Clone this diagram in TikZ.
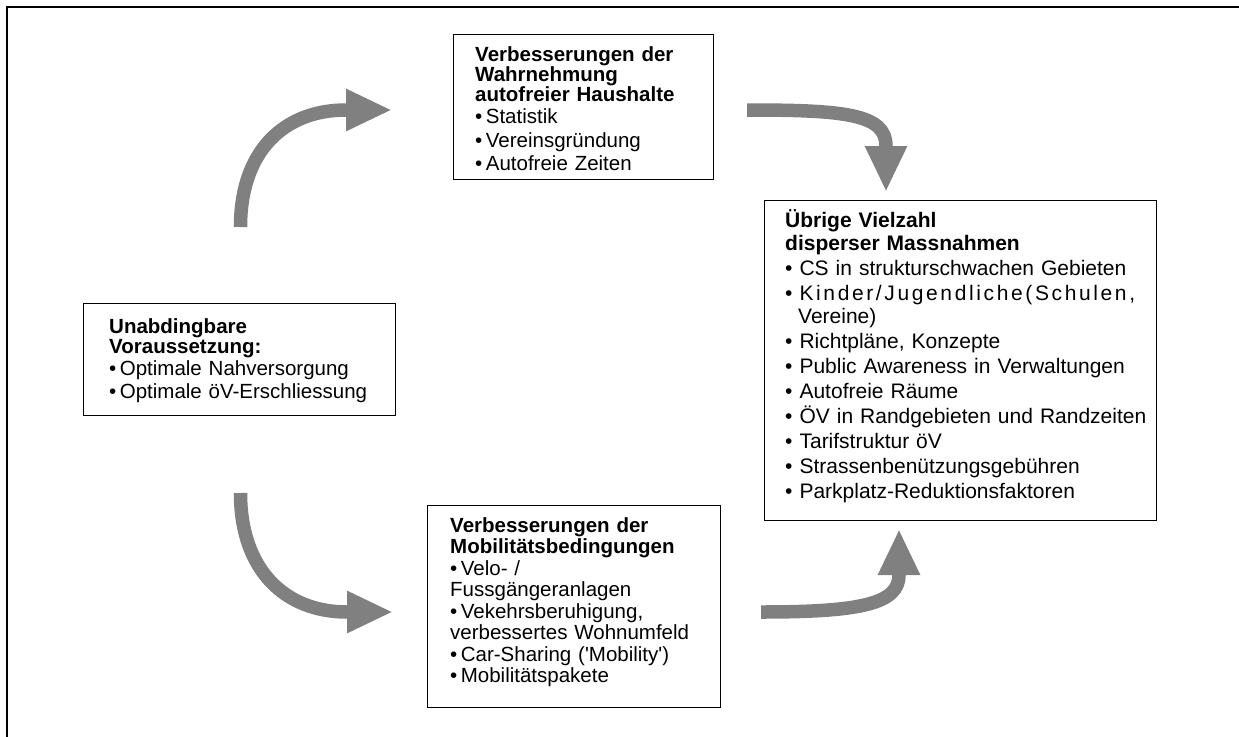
\documentclass[tikz,border=0pt]{standalone}
\usepackage{fontspec}
\setmainfont{Liberation Sans}
\usetikzlibrary{arrows.meta}
\definecolor{arrowgray}{RGB}{128,128,128}
\tikzset{
  boxframe/.style={draw=black, line width=1.4pt, inner sep=0pt, anchor=north west},
  boxtext/.style={anchor=base west, inner sep=0pt, align=left},
  bigarrow/.style={draw=arrowgray, line width=13.5pt, -{Triangle[length=46pt,width=39pt]}},
  outerframe/.style={draw=black, line width=2.5pt}
}
\begin{document}
\begin{tikzpicture}[x=1pt,y=-1pt]
\useasboundingbox (0,0) rectangle (1239,736);
% outer frame (top and left)
\coordinate (fBL) at (7,737);
\coordinate (fTL) at (7,7);
\coordinate (fTR) at (1240,7);
\draw[outerframe] (fBL) -- (fTL) -- (fTR);

% boxes
\node[boxframe, minimum width=260pt, minimum height=145pt] (topbox) at (453,34) {};
\node[boxframe, minimum width=392pt, minimum height=320pt] (rightbox) at (764,200) {};
\node[boxframe, minimum width=312pt, minimum height=112pt] (leftbox) at (83,303) {};
\node[boxframe, minimum width=293pt, minimum height=202pt] (botbox) at (427,505) {};

% texts
\node[boxtext, text width=250pt, font=\fontsize{20.5}{20}\selectfont] (toptext) at (475,61)
 {\textbf{Verbesserungen der}\\
  \textbf{Wahrnehmung}\\
  \textbf{autofreier Haushalte}\\[2.5pt]
  •\hspace{3.5pt}Statistik\\[3.5pt]
  •\hspace{3.5pt}Vereinsgründung\\[3.5pt]
  •\hspace{3.5pt}Autofreie Zeiten};

\node[boxtext, text width=420pt, font=\fontsize{21}{23}\selectfont] (righttext) at (785,227)
 {\textbf{Übrige Vielzahl}\\
  \textbf{disperser Massnahmen}\\[2pt]
  • CS in strukturschwachen Gebieten\\[2pt]
  {\addfontfeature{LetterSpace=12.5}• Kinder/Jugendliche(Schulen,}\\
  \hspace*{13pt}Vereine)\\[2pt]
  • Richtpläne, Konzepte\\[2pt]
  • Public Awareness in Verwaltungen\\[2pt]
  • Autofreie Räume\\[2pt]
  • ÖV in Randgebieten und Randzeiten\\[2pt]
  • Tarifstruktur öV\\[2pt]
  • Strassenbenützungsgebühren\\[2pt]
  • Parkplatz-Reduktionsfaktoren};

\node[boxtext, text width=300pt, font=\fontsize{20.5}{20}\selectfont] (lefttext) at (109,333)
 {\textbf{Unabdingbare}\\
  \textbf{Voraussetzung:}\\[2pt]
  •\hspace{3.5pt}Optimale Nahversorgung\\[3pt]
  •\hspace{3.5pt}Optimale öV-Erschliessung};

\node[boxtext, text width=300pt, font=\fontsize{20.5}{21.5}\selectfont] (bottext) at (450,532)
 {\textbf{Verbesserungen der}\\
  \textbf{Mobilitätsbedingungen}\\
  •\hspace{3.5pt}Velo- /\\
  Fussgängeranlagen\\
  •\hspace{3.5pt}Vekehrsberuhigung,\\
  verbessertes Wohnumfeld\\
  •\hspace{3.5pt}Car-Sharing (\textquotesingle Mobility\textquotesingle)\\
  •\hspace{3.5pt}Mobilitätspakete};

% arrows
\coordinate (a1s) at (240.5,227);
\coordinate (a1b) at (346,110);
\coordinate (a1t) at (392,110);
\draw[bigarrow] (a1s) .. controls (240.5,150) and (285,110) .. (a1b) -- (a1t);

\coordinate (a2s) at (747,110);
\coordinate (a2b) at (886,146);
\coordinate (a2t) at (886,192);
\draw[bigarrow] (a2s) .. controls (845,110) and (886,114) .. (a2b) -- (a2t);

\coordinate (a3s) at (240.5,493);
\coordinate (a3b) at (347,612);
\coordinate (a3t) at (393,612);
\draw[bigarrow] (a3s) .. controls (240.5,570) and (285,612) .. (a3b) -- (a3t);

\coordinate (a4s) at (761,612);
\coordinate (a4b) at (899,575);
\coordinate (a4t) at (899,529);
\draw[bigarrow] (a4s) .. controls (860,612) and (899,604) .. (a4b) -- (a4t);
\end{tikzpicture}
\end{document}
